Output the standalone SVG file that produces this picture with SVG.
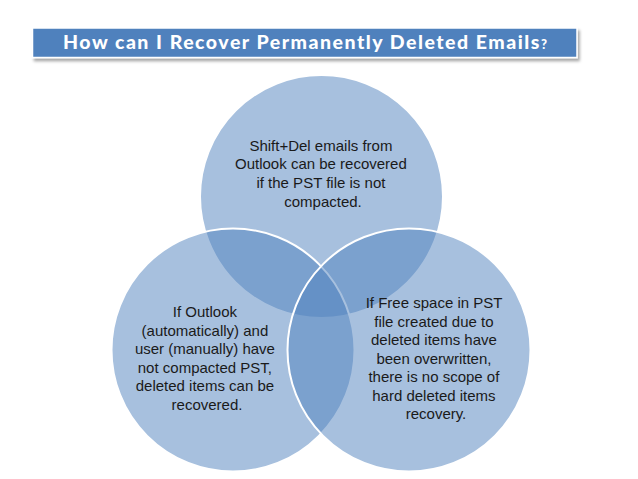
<svg xmlns="http://www.w3.org/2000/svg" width="638" height="479" viewBox="0 0 638 479">
  <defs>
    <filter id="shadow" x="-5%" y="-30%" width="110%" height="180%">
      <feDropShadow dx="2" dy="3" stdDeviation="1.6" flood-color="#000" flood-opacity="0.35"/>
    </filter>
  </defs>
  <style>
    .circle { fill: #4F81BD; fill-opacity: 0.5; stroke: #ffffff; stroke-width: 2; }
    .body { font-family: "Liberation Sans", Arial, sans-serif; font-size: 15px; fill: #1a1a1a; text-anchor: middle; }
    .title { font-family: Lato, "Liberation Sans", sans-serif; font-weight: 900; font-size: 19.5px; fill: #ffffff; }
  </style>
  <rect width="638" height="479" fill="#ffffff"/>
  <g id="title">
    <rect x="32.5" y="28" width="544.5" height="29.5" fill="#4F81BD" stroke="#ffffff" stroke-width="1.5" filter="url(#shadow)"/>
    <text class="title" x="63" y="48.5" textLength="484" lengthAdjust="spacing">How can I Recover Permanently Deleted Emails<tspan font-size="13">?</tspan></text>
  </g>
  <g id="circle-top">
    <circle class="circle" cx="321.5" cy="196.5" r="121.5"/>
  </g>
  <g id="circle-left">
    <circle class="circle" cx="233" cy="350" r="121.5"/>
  </g>
  <g id="circle-right">
    <circle class="circle" cx="409" cy="350" r="121.5"/>
  </g>
  <g id="connectors"/>
  <g id="label-top">
    <text class="body" x="323">
      <tspan x="323" y="150.7">Shift+Del emails from</tspan>
      <tspan x="323" y="169.3">Outlook can be recovered</tspan>
      <tspan x="323" y="187.9">if the PST file is not</tspan>
      <tspan x="323" y="206.5">compacted.</tspan>
    </text>
  </g>
  <g id="label-left">
    <text class="body" x="207">
      <tspan x="207" y="317">If Outlook</tspan>
      <tspan x="207" y="335.5">(automatically) and</tspan>
      <tspan x="207" y="354">user (manually) have</tspan>
      <tspan x="207" y="372.5">not compacted PST,</tspan>
      <tspan x="207" y="391">deleted items can be</tspan>
      <tspan x="207" y="409.5">recovered.</tspan>
    </text>
  </g>
  <g id="label-right">
    <text class="body" x="436">
      <tspan x="436" y="308">If Free space in PST</tspan>
      <tspan x="436" y="326.5">file created due to</tspan>
      <tspan x="436" y="345">deleted items have</tspan>
      <tspan x="436" y="363.5">been overwritten,</tspan>
      <tspan x="436" y="382">there is no scope of</tspan>
      <tspan x="436" y="400.5">hard deleted items</tspan>
      <tspan x="436" y="419">recovery.</tspan>
    </text>
  </g>
</svg>
